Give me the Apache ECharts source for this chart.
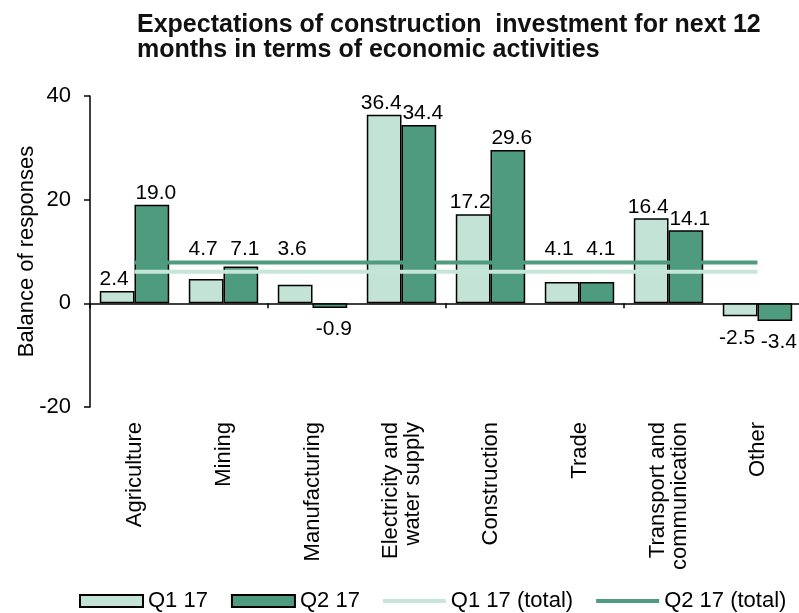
<!DOCTYPE html>
<html>
<head>
<meta charset="utf-8">
<title>Expectations of construction investment</title>
<script src="https://cdn.jsdelivr.net/npm/echarts@6/dist/echarts.min.js"></script>
<style>
    html,body{margin:0;padding:0;background:#fff;}
    .char{width:799px;height:613px;}
</style>
</head>
<body>
<div class="char"></div>
<script>
var categories = ["Agriculture","Mining","Manufacturing","Electricity and\nwater supply","Construction","Trade","Transport and\ncommunication","Other"];
var q1 = [2.4, 4.7, 3.6, 36.4, 17.2, 4.1, 16.4, -2.5];
var q2 = [19.0, 7.1, -0.9, 34.4, 29.6, 4.1, 14.1, -3.4];
var q1Total = [6.1, 6.1, 6.1, 6.1, 6.1, 6.1, 6.1, 6.1];
var q2Total = [7.9, 7.9, 7.9, 7.9, 7.9, 7.9, 7.9, 7.9];
var yTicks = [-20, 0, 20, 40];

(function(){
    var font = "'Liberation Sans', Arial, sans-serif";
    var light = '#c2e3d5';
    var dark = '#4e9b80';
    var lineIcon = 'path://M0,0L63,0L63,4L0,4Z';
    var gridTop = 96, gridBottom = 206;
    var pxPerUnit = (613 - gridTop - gridBottom) / (yTicks[yTicks.length-1] - yTicks[0]);

    // labels above positive bars, below negative ones;
    // short bars get their label lifted clear of the total lines
    function barData(arr, dx){
        return arr.map(function(v, i){
            var dist = v < 0 ? 11 : 1;
            if (v > 3 && v < q2Total[i]) {
                dist = (q2Total[i] + 0.1 - v) * pxPerUnit + 2;
            }
            return {value:v, label:{
                position: v < 0 ? 'bottom' : 'top',
                distance: dist,
                offset:[dx,0]
            }};
        });
    }
    var barLabel = {
        show:true,
        color:'#000',
        fontSize:21,
        fontFamily:font,
        formatter:function(p){ return p.value.toFixed(1); }
    };

    var myChart = echarts.init(document.querySelector(".char"));
    var option = {
        animation:false,
        textStyle:{fontFamily:font},
        title:{
            text:'Expectations of construction  investment for next 12\nmonths in terms of economic activities',
            left:137,
            top:13,
            padding:0,
            textStyle:{
                fontSize:25,
                fontWeight:'bold',
                lineHeight:25,
                color:'#111',
                fontFamily:font
            }
        },
        grid:{
            left:90,
            right:-3,
            top:gridTop,
            bottom:gridBottom,
            outerBoundsMode:'none'
        },
        legend:{
            data:[
                {name:'Q1 17',icon:'rect'},
                {name:'Q2 17',icon:'rect'},
                {name:'Q1 17 (total)',icon:lineIcon},
                {name:'Q2 17 (total)',icon:lineIcon}
            ],
            left:79,
            top:590,
            width:718,
            padding:0,
            itemWidth:63,
            itemHeight:12,
            itemGap:23,
            textStyle:{color:'#000',fontSize:22,fontFamily:font}
        },
        xAxis:[{
            type:'category',
            data:categories,
            axisLine:{onZero:true,lineStyle:{color:'#000',width:1.5}},
            axisTick:{show:true,length:5,lineStyle:{color:'#000',width:1.5}},
            axisLabel:{show:false}
        },{
            type:'category',
            data:categories,
            position:'bottom',
            axisLine:{show:false,onZero:false},
            axisTick:{show:false},
            axisLabel:{
                rotate:90,
                margin:15,
                color:'#000',
                fontSize:22,
                lineHeight:22,
                fontFamily:font
            }
        }],
        yAxis:{
            type:'value',
            min:yTicks[0],
            max:yTicks[yTicks.length-1],
            interval:20,
            name:'Balance of responses',
            nameLocation:'middle',
            nameGap:52,
            nameMoveOverlap:false,
            nameTextStyle:{color:'#000',fontSize:22,fontFamily:font},
            axisLine:{show:true,lineStyle:{color:'#000',width:1.5}},
            axisTick:{show:true,length:6,lineStyle:{color:'#000',width:1.5}},
            axisLabel:{margin:19,color:'#000',fontSize:22,fontFamily:font},
            splitLine:{show:false}
        },
        series:[{
            name:'Q1 17',
            type:'bar',
            data:barData(q1,-3),
            barGap:'0%',
            barCategoryGap:'22%',
            itemStyle:{color:light,borderColor:'#000',borderWidth:1.5},
            label:barLabel
        },{
            name:'Q2 17',
            type:'bar',
            data:barData(q2,4),
            barGap:'0%',
            barCategoryGap:'22%',
            itemStyle:{color:dark,borderColor:'#000',borderWidth:1.5},
            label:barLabel
        },{
            name:'Q1 17 (total)',
            type:'line',
            data:q1Total,
            symbol:'none',
            symbolKeepAspect:true,
            z:5,
            lineStyle:{color:'#c6e6d9',width:4},
            itemStyle:{color:'#c6e6d9'}
        },{
            name:'Q2 17 (total)',
            type:'line',
            data:q2Total,
            symbol:'none',
            symbolKeepAspect:true,
            z:5,
            lineStyle:{color:dark,width:4},
            itemStyle:{color:dark}
        }]
    };
    myChart.setOption(option);
    window.addEventListener("resize",function(){
        myChart.resize();
    })
})();
</script>
</body>
</html>
